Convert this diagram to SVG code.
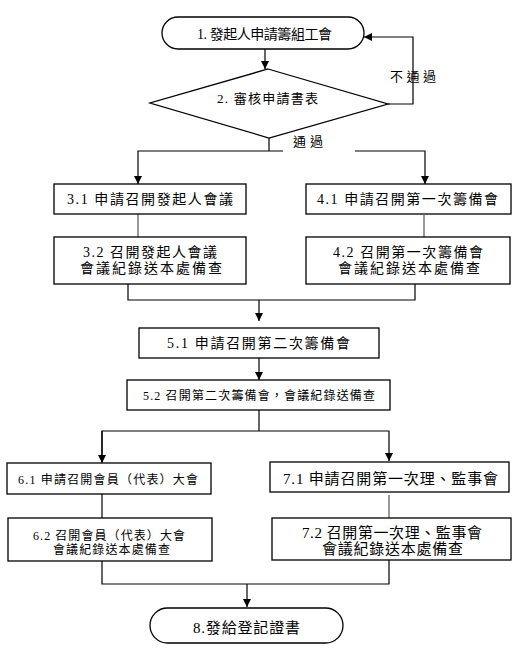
<svg xmlns="http://www.w3.org/2000/svg" width="519" height="650" viewBox="0 0 519 650">
<defs>
<marker id="ah" viewBox="0 0 10 10" refX="10" refY="5" markerWidth="8" markerHeight="8" markerUnits="userSpaceOnUse" orient="auto">
<path d="M0,0 L10,5 L0,10 z" fill="#000"/>
</marker>
</defs>
<style>
.n{fill:#fff;stroke:#000;stroke-width:1.3}
.c{fill:none;stroke:#000;stroke-width:1.2}
.g{fill:none;stroke:#555;stroke-width:1.2}
text{font-family:"Liberation Serif","Noto Sans CJK TC",serif;fill:#000;lengthAdjust:spacing}
.s12{font-size:12px}
.s13{font-size:13px}
.s14{font-size:14px}
.s15{font-size:15px}
</style>
<rect width="519" height="650" fill="#fff"/>
<g id="connectors">
<path class="c" d="M265,48 V69" marker-end="url(#ah)"/>
<path class="c" d="M388,104 H413 V70 M413,92 V104"/>
<path class="c" d="M413,70 V37 H364" marker-end="url(#ah)"/>
<path class="c" d="M269,138 V151"/>
<path class="c" d="M283,151 H138 V184" marker-end="url(#ah)"/>
<path class="c" d="M355,151 H425 V184" marker-end="url(#ah)"/>
<path class="g" d="M138,214 V237"/>
<path class="g" d="M424,215 V237"/>
<path class="c" d="M128,284 V300 H415 V284"/>
<path class="c" d="M259,300 V321" marker-end="url(#ah)"/>
<path class="c" d="M259,358 V380" marker-end="url(#ah)"/>
<path class="c" d="M259,410 V431"/>
<path class="c" d="M102,462 V431 H389 V461" marker-end="url(#ah)"/>
<path class="c" d="M102,431 V463" marker-end="url(#ah)"/>
<path class="c" d="M102,494 V518"/>
<path class="g" d="M389,495 V518"/>
<path class="c" d="M102,561 V584 H389 V560"/>
<path class="c" d="M247,584 V607" marker-end="url(#ah)"/>
<text x="390" y="81" class="s13" textLength="46">不通過</text>
<text x="293" y="146" class="s13" textLength="30">通過</text>
</g>
<g id="n1">
<rect class="n" x="162" y="17" width="202" height="32" rx="16" ry="16"/>
<text x="197" y="39" class="s14" textLength="135">1. 發起人申請籌組工會</text>
</g>
<g id="n2">
<path class="n" d="M268,69 L388,104 L269,138 L150,103 Z"/>
<text x="217" y="103" class="s13" textLength="101">2. 審核申請書表</text>
</g>
<g id="n31">
<rect class="n" x="54" y="184" width="192" height="30"/>
<text x="67" y="204" class="s14" textLength="166">3.1 申請召開發起人會議</text>
</g>
<g id="n41">
<rect class="n" x="306" y="184" width="205" height="30"/>
<text x="317" y="204" class="s14" textLength="181">4.1 申請召開第一次籌備會</text>
</g>
<g id="n32">
<rect class="n" x="54" y="237" width="192" height="47"/>
<text x="83" y="257" class="s14" textLength="134">3.2 召開發起人會議</text>
<text x="80" y="273" class="s14" textLength="142">會議紀錄送本處備查</text>
</g>
<g id="n42">
<rect class="n" x="306" y="237" width="204" height="47"/>
<text x="333" y="257" class="s14" textLength="150">4.2 召開第一次籌備會</text>
<text x="338" y="273" class="s14" textLength="142">會議紀錄送本處備查</text>
</g>
<g id="n51">
<rect class="n" x="139" y="328" width="240" height="30"/>
<text x="167" y="348" class="s14" textLength="183">5.1 申請召開第二次籌備會</text>
</g>
<g id="n52">
<rect class="n" x="127" y="380" width="263" height="30"/>
<text x="143" y="400" class="s12" textLength="232">5.2 召開第二次籌備會，會議紀錄送備查</text>
</g>
<g id="n61">
<rect class="n" x="7" y="463" width="204" height="31"/>
<text x="18" y="484" class="s12" textLength="180">6.1 申請召開會員（代表）大會</text>
</g>
<g id="n71">
<rect class="n" x="270" y="462" width="239" height="30"/>
<text x="283" y="484" class="s15" textLength="215">7.1 申請召開第一次理、監事會</text>
</g>
<g id="n62">
<rect class="n" x="8" y="518" width="204" height="43"/>
<text x="33" y="540" class="s12" textLength="152">6.2 召開會員（代表）大會</text>
<text x="53" y="554" class="s12" textLength="117">會議紀錄送本處備查</text>
</g>
<g id="n72">
<rect class="n" x="272" y="518" width="239" height="42"/>
<text x="302" y="538" class="s15" textLength="180">7.2 召開第一次理、監事會</text>
<text x="322" y="554" class="s15" textLength="141">會議紀錄送本處備查</text>
</g>
<g id="n8">
<rect class="n" x="150" y="608" width="193" height="35" rx="17.5" ry="17.5"/>
<text x="193" y="633" class="s15" textLength="107">8.發給登記證書</text>
</g>
</svg>
